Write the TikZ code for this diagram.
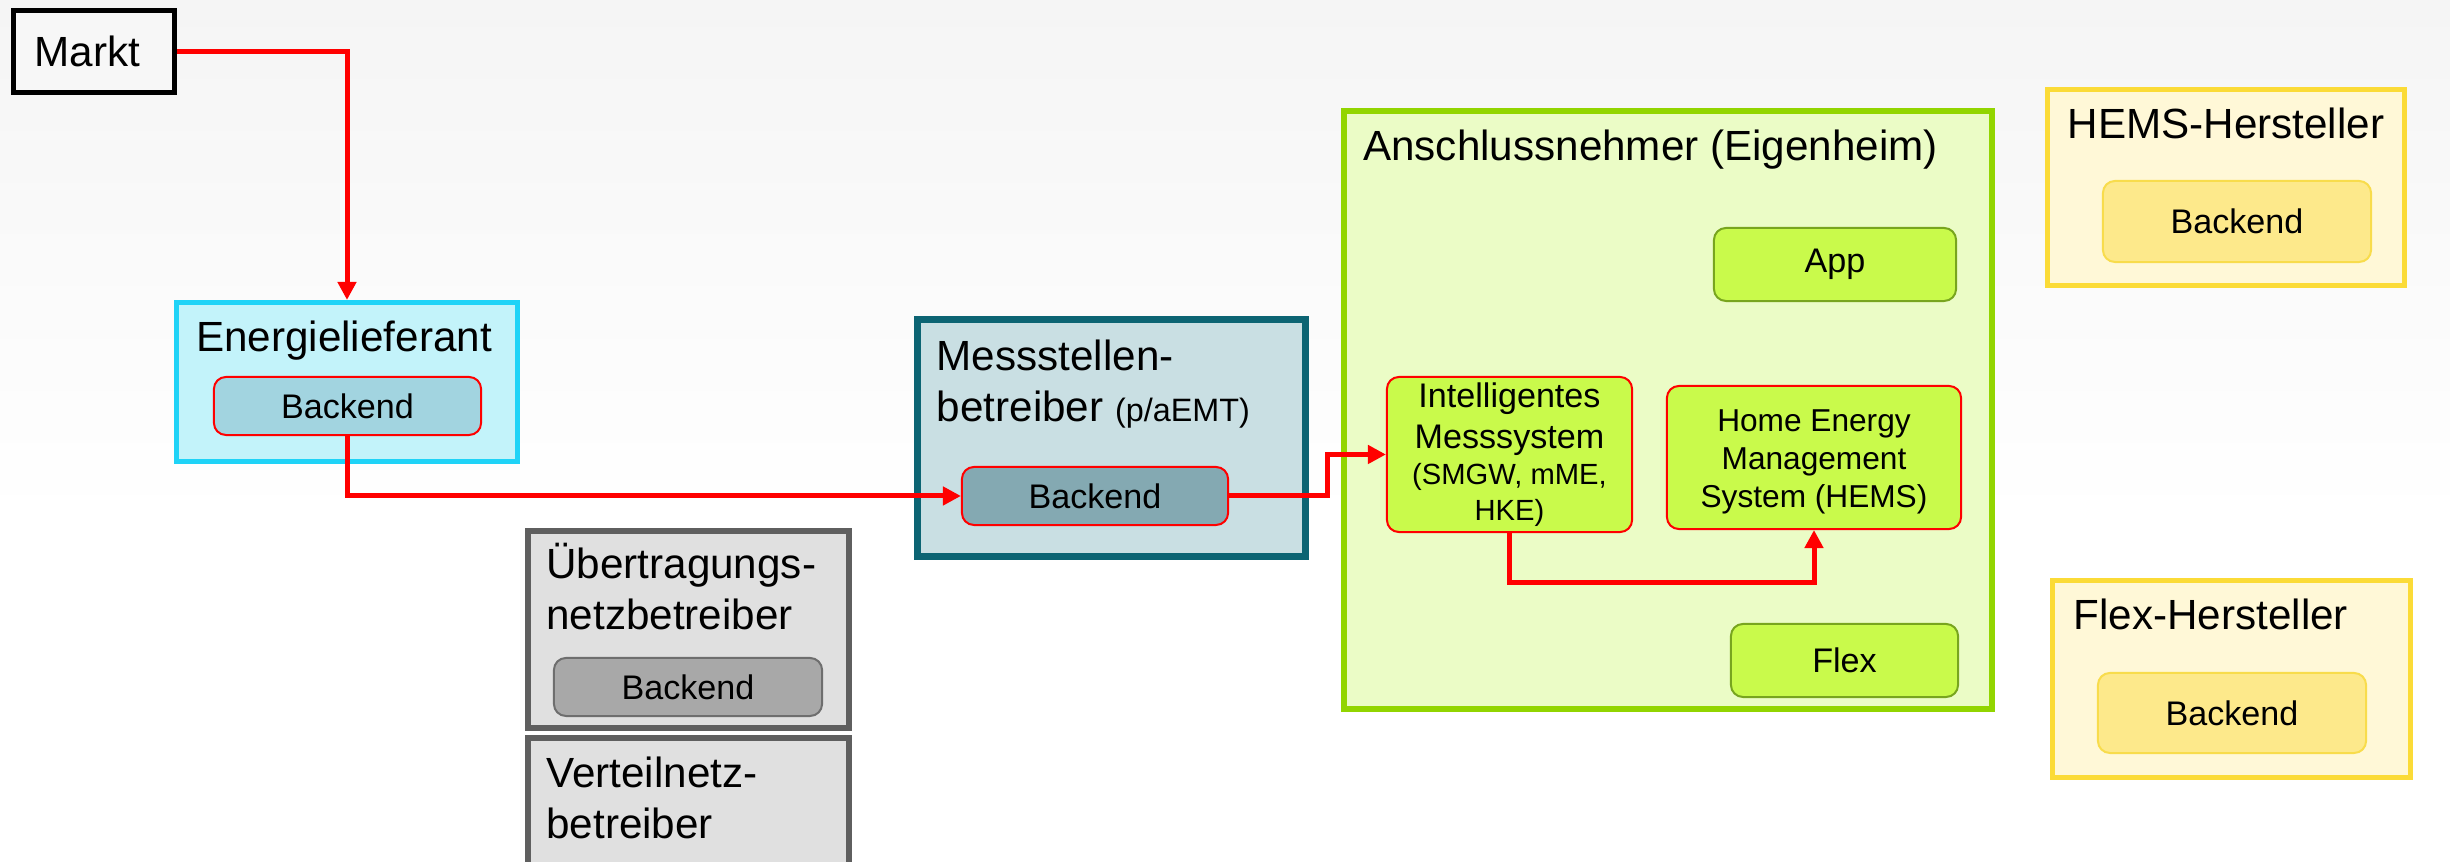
\documentclass[tikz,border=0pt]{standalone}
\usepackage{fontspec}
\setmainfont{Liberation Sans}
\usetikzlibrary{positioning, calc, arrows.meta}

\definecolor{bgtop}{HTML}{F5F5F5}
\definecolor{mktfill}{HTML}{F7F7F7}
\definecolor{elcyan}{HTML}{1FD3F7}
\definecolor{elfill}{HTML}{C3F3FA}
\definecolor{ebfill}{HTML}{A2D4E0}
\definecolor{msteal}{HTML}{0C6473}
\definecolor{msfill}{HTML}{C9DFE3}
\definecolor{mbfill}{HTML}{84A9B2}
\definecolor{gyborder}{HTML}{5F5F5F}
\definecolor{gyfill}{HTML}{E0E0E0}
\definecolor{gyback}{HTML}{A8A8A8}
\definecolor{gyline}{HTML}{6E6E6E}
\definecolor{angreen}{HTML}{92D500}
\definecolor{anfill}{HTML}{EBFCC6}
\definecolor{limefill}{HTML}{C9FA4B}
\definecolor{apline}{HTML}{78A51E}
\definecolor{ylborder}{HTML}{FBDB37}
\definecolor{ylfill}{HTML}{FFF8D7}
\definecolor{ylback}{HTML}{FDE98B}
\definecolor{ylline}{HTML}{F8DC4C}

\begin{document}
\begin{tikzpicture}[
    x=0.01cm, y=-0.01cm,
    dims/.style 2 args={minimum width=#1cm, minimum height=#2cm},
    outer/.style={rectangle, line width=0.05cm, inner sep=0pt},
    thick outer/.style={outer, line width=0.065cm},
    inner/.style={rectangle, rounded corners=0.12cm, line width=0.02cm,
      inner sep=0pt, font=\fontsize{9.7}{11.6}\selectfont},
    title/.style={inner sep=0pt, align=left, font=\fontsize{12}{14.5}\selectfont},
    flow/.style={draw=red, line width=0.05cm,
      -{Triangle[length=0.18cm, width=0.18cm]}}
  ]
  \fill[white] (0,0) rectangle (2450,862);
  \fill[top color=bgtop, bottom color=white] (0,0) rectangle (2450,520);
  \useasboundingbox (0,0) rectangle (2450,862);

  % Markt und Lieferant
  \node[outer, draw=black, fill=mktfill, minimum height=0.82cm, text width=1.19cm,
    inner xsep=0.21cm, align=left, font=\fontsize{12}{14.5}\selectfont] (markt) at (94,51.5) {Markt};
  \node[outer, draw=elcyan, fill=elfill, dims={3.41}{1.59}] (energie) at (347,382) {};
  \node[title, anchor=base] at ($(energie.north)+(-3,52)$) {Energielieferant};
  \node[inner, draw=red, fill=ebfill, dims={2.67}{0.58}] (eback) at (347.5,406) {Backend};

  % Messstellenbetreiber
  \node[thick outer, draw=msteal, fill=msfill, dims={3.88}{2.37}] (messst) at (1111.5,438) {};
  \node[title, anchor=north west] at ($(messst.north west)+(22,23)$)
    {Messstellen-\\betreiber {\fontsize{9.2}{11}\selectfont (p/aEMT)}};
  \node[inner, draw=red, fill=mbfill, dims={2.66}{0.58}] (mback) at (1095,496) {Backend};

  % Netzbetreiber
  \node[thick outer, draw=gyborder, fill=gyfill, dims={3.21}{1.97}] (uenb) at (688.5,629.5) {};
  \node[title, anchor=north west] at ($(uenb.north west)+(21,15)$) {Übertragungs-\\netzbetreiber};
  \node[inner, draw=gyline, fill=gyback, dims={2.68}{0.58}] (uback) at (688,687) {Backend};
  \node[thick outer, draw=gyborder, fill=gyfill, dims={3.21}{1.40}] (vnb) at (688.5,808) {};
  \node[title, anchor=north west] at ($(vnb.north west)+(21,22)$) {Verteilnetz-\\betreiber};

  % Anschlussnehmer
  \node[thick outer, draw=angreen, fill=anfill, dims={6.48}{5.98}] (anschl) at (1668,410) {};
  \node[title, anchor=base west] at ($(anschl.north west)+(22,53)$) {Anschlussnehmer (Eigenheim)};
  \node[inner, draw=apline, fill=limefill, dims={2.42}{0.73}] (app) at (1835,264.5) {App};
  \node[inner, draw=red, fill=limefill, dims={2.45}{1.55}, align=center] (ims) at (1509.5,454.5)
    {Intelligentes\\Messsystem\\[-1.2pt]{\fontsize{8.3}{10}\selectfont (SMGW, mME,}\\[-1.6pt]{\fontsize{8.3}{10}\selectfont HKE)}};
  \node[inner, draw=red, fill=limefill, dims={2.94}{1.43}, align=center,
    font=\fontsize{9}{10.9}\selectfont, text height=30.5pt, text depth=1.9pt] (hems) at (1814,457.5)
    {Home Energy\\Management\\System (HEMS)};
  \node[inner, draw=apline, fill=limefill, dims={2.27}{0.73}] (flex) at (1844.5,660.5) {Flex};

  % Hersteller
  \node[outer, draw=ylborder, fill=ylfill, dims={3.57}{1.96}] (hemsh) at (2226,187.5) {};
  \node[title, anchor=base] at ($(hemsh.north)+(0,52)$) {HEMS-Hersteller};
  \node[inner, draw=ylline, fill=ylback, dims={2.68}{0.81}] (hback) at (2237,221.5) {Backend};
  \node[outer, draw=ylborder, fill=ylfill, dims={3.58}{1.97}] (flexh) at (2231.5,679) {};
  \node[title, anchor=base west] at ($(flexh.north west)+(23,52)$) {Flex-Hersteller};
  \node[inner, draw=ylline, fill=ylback, dims={2.68}{0.80}] (fback) at (2232,713) {Backend};

  % Fluesse
  \draw[flow] (markt.east) -| (energie.north);
  \draw[flow] (eback.south) |- (mback.west);
  \draw[flow] (mback.east) -- ++(98,0) |- (ims.west);
  \draw[flow] (ims.south) -- ++(0,49) -| (hems.south);
\end{tikzpicture}
\end{document}
